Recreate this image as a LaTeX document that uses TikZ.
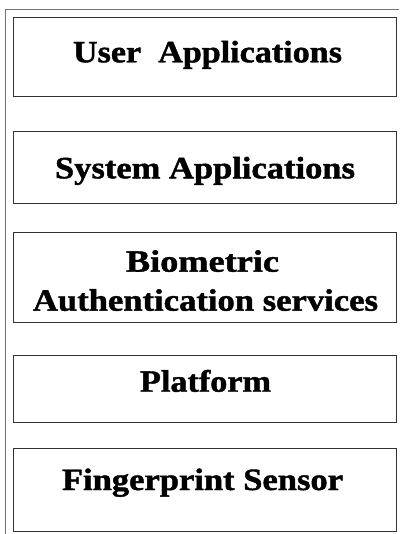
\documentclass[tikz,border=0pt]{standalone}
\usepackage{fontspec}
\setmainfont{Liberation Serif}
\newfontfamily\heavyfont[FakeBold=1.3]{Liberation Serif Bold}
\usepackage{graphicx}
\begin{document}
\begin{tikzpicture}[x=1pt,y=-1pt,
  layerbox/.style={draw=black!80,line width=1.1pt,rectangle,inner sep=0pt,anchor=north west,minimum width=383pt},
  frameline/.style={draw=black!55,line width=1pt},
  lbl/.style={inner sep=0pt,anchor=base,font=\heavyfont\fontsize{31}{36}\selectfont}]
\useasboundingbox (0,0) rectangle (399,534);
% outer frame
\coordinate (ftop) at (5,10);
\coordinate (fright) at (399,10);
\coordinate (fbot) at (5,534);
\draw[frameline] (fright) -- (ftop) -- (fbot);
% boxes
\node[layerbox,minimum height=79pt] (b1) at (13,17) {};
\node[layerbox,minimum height=72pt] (b2) at (13,131) {};
\node[layerbox,minimum height=90pt] (b3) at (13,232) {};
\node[layerbox,minimum height=67pt] (b4) at (13,355) {};
\node[layerbox,minimum height=83pt] (b5) at (13,448) {};
% labels
\node[lbl] (t1) at (207.5,62.3) {\resizebox{269pt}{\height}{User~~Applications}};
\node[lbl] (t2) at (205,178.3) {\resizebox{300pt}{\height}{System Applications}};
\node[lbl] (t3a) at (202.5,271.7) {\resizebox{153pt}{\height}{Biometric}};
\node[lbl] (t3b) at (205.5,310.7) {\resizebox{345pt}{\height}{Authentication services}};
\node[lbl] (t4) at (205.5,391.7) {\resizebox{131pt}{\height}{Platform}};
\node[lbl] (t5) at (202.5,490) {\resizebox{281pt}{\height}{Fingerprint Sensor}};
\end{tikzpicture}
\end{document}
